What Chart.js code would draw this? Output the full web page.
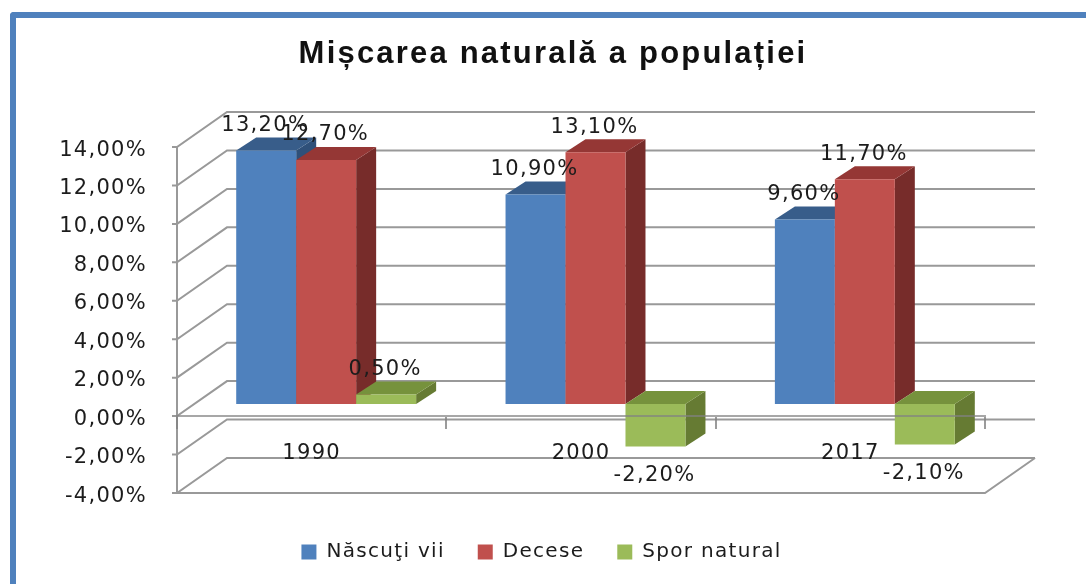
<!DOCTYPE html>
<html>
<head>
<meta charset="utf-8">
<script src="https://cdn.jsdelivr.net/npm/chart.js@4/dist/chart.umd.js"></script>
<style>
  html, body { margin: 0; padding: 0; background: #fff; overflow: hidden; }
  #frame { position: absolute; left: 10px; top: 12px; width: 1100px; height: 600px;
           border-left: 6px solid #4f81bd; border-top: 6px solid #4f81bd; border-top-left-radius: 4px; }
  canvas { position: absolute; left: 0; top: 0; filter: blur(0.5px); }
</style>
</head>
<body>
<div id="frame"></div>
<canvas id="chart" width="1086" height="584"></canvas>
<script>
// --- Data ---
const years = ['1990', '2000', '2017'];
const nascuti = [13.2, 10.9, 9.6];
const decese = [12.7, 13.1, 11.7];
const spor = [0.5, -2.2, -2.1];

const titleText = 'Mișcarea naturală a populației';
const seriesNames = ['Născuţi vii', 'Decese', 'Spor natural'];
const frontColors = ['#4f81bd', '#c0504d', '#9bbb59'];
const topColors = ['#385d8a', '#953735', '#76923c'];
const sideColors = ['#2f5079', '#772c2a', '#667b33'];

const GRID = '#999999';
const INK = '#1c1c1c';
const FONT = '"DejaVu Sans"';
const SPACING = '1.3px'; // the reference text is stretched sideways

// --- Fake 3D geometry (pixels) ---
const wall = { dx: 50, dy: -35 };   // front plane -> back wall
const bar = { dx: 14.5, dy: -12 };  // front plane -> bar front face
const depth = { dx: 20, dy: -13 };  // bar front face -> bar back face
const labelGap = 25;

const fmt = v => v.toFixed(2).replace('.', ',') + '%';

const poly = (ctx, color, pts) => {
  ctx.fillStyle = color;
  ctx.beginPath();
  pts.forEach((p, i) => i ? ctx.lineTo(p[0], p[1]) : ctx.moveTo(p[0], p[1]));
  ctx.closePath();
  ctx.fill();
};

const bars3d = {
  id: 'bars3d',
  beforeUpdate(chart) {
    chart.ctx.letterSpacing = SPACING;
  },
  afterLayout(chart) {
    // legend sits off the canvas centre in the reference
    chart.legend.left += 49;
    chart.legend.right += 49;
    chart.legend.top += 16;
    chart.legend.bottom += 16;
  },
  beforeDraw(chart) {
    const { ctx } = chart;
    ctx.letterSpacing = SPACING;
    ctx.save();
    ctx.letterSpacing = '2.2px';
    ctx.font = 'bold 31px "Liberation Sans"';
    ctx.fillStyle = '#111';
    ctx.textAlign = 'center';
    ctx.textBaseline = 'middle';
    ctx.fillText(titleText, 553, 54);
    ctx.restore();
  },
  beforeDatasetsDraw(chart) {
    const { ctx, chartArea: a, scales: { y } } = chart;
    ctx.save();
    ctx.strokeStyle = GRID;
    ctx.lineWidth = 2;
    y.ticks.forEach(t => {
      const py = y.getPixelForValue(t.value);
      ctx.beginPath();
      ctx.moveTo(a.left - 5, py);
      ctx.lineTo(a.left, py);
      ctx.lineTo(a.left + wall.dx, py + wall.dy);
      ctx.lineTo(a.right + wall.dx, py + wall.dy);
      ctx.stroke();
    });
    // floor
    const floor = y.getPixelForValue(y.min);
    ctx.beginPath();
    ctx.moveTo(a.left, floor);
    ctx.lineTo(a.right, floor);
    ctx.lineTo(a.right + wall.dx, floor + wall.dy);
    ctx.stroke();
    ctx.restore();

    // bars, first series first so the later ones cover its side face
    ctx.save();
    ctx.translate(bar.dx, bar.dy);
    chart.data.datasets.forEach((ds, i) => {
      chart.getDatasetMeta(i).data.forEach(el => {
        const l = el.x - el.width / 2;
        const r = el.x + el.width / 2;
        const top = Math.min(el.y, el.base);
        const bot = Math.max(el.y, el.base);
        poly(ctx, sideColors[i], [[r, top], [r + depth.dx, top + depth.dy], [r + depth.dx, bot + depth.dy], [r, bot]]);
        poly(ctx, topColors[i], [[l, top], [r, top], [r + depth.dx, top + depth.dy], [l + depth.dx, top + depth.dy]]);
        el.draw(ctx);
      });
    });
    ctx.restore();
  },
  beforeDatasetDraw() {
    return false; // already painted above
  },
  afterDatasetsDraw(chart) {
    const { ctx } = chart;
    ctx.save();
    ctx.font = '21px ' + FONT;
    ctx.fillStyle = INK;
    ctx.textAlign = 'center';
    ctx.textBaseline = 'middle';
    chart.data.datasets.forEach((ds, i) => {
      chart.getDatasetMeta(i).data.forEach((el, j) => {
        const v = ds.data[j];
        const y = v < 0 ? el.y + labelGap + 4 : el.y - labelGap;
        ctx.fillText(fmt(v), el.x + bar.dx - 1, y + bar.dy);
      });
    });
    ctx.restore();
  }
};

const makeDataset = (label, data, i) => ({
  label,
  data,
  backgroundColor: frontColors[i],
  borderWidth: 0,
  categoryPercentage: 0.668,
  barPercentage: 1
});

new Chart(document.getElementById('chart'), {
  type: 'bar',
  data: {
    labels: years,
    datasets: [
      makeDataset(seriesNames[0], nascuti, 0),
      makeDataset(seriesNames[1], decese, 1),
      makeDataset(seriesNames[2], spor, 2)
    ]
  },
  plugins: [bars3d],
  options: {
    responsive: false,
    animation: false,
    layout: { padding: { left: 0, right: 101, top: 147, bottom: 28 } },
    plugins: {
      tooltip: { enabled: false },
      title: { display: false },
      legend: {
        position: 'bottom',
        labels: {
          color: INK,
          font: { family: FONT, size: 20 },
          boxWidth: 15,
          boxHeight: 15,
          padding: 33
        }
      }
    },
    scales: {
      x: {
        position: { y: 0 },
        afterFit: s => { s.height = 0; },
        grid: { offset: true, drawOnChartArea: false, drawTicks: true, tickLength: 12, color: 'rgba(130,130,130,0.8)', lineWidth: 2, z: 1 },
        border: { color: 'rgba(130,130,130,0.7)', width: 2, z: 1 },
        ticks: { color: INK, font: { family: FONT, size: 21 }, padding: 13, maxRotation: 0, z: 1 }
      },
      y: {
        min: -4,
        max: 14,
        afterFit: s => { s.width = 177; },
        // grid off: a visible grid line would nudge the bar bases by half its width
        grid: { display: false, drawTicks: false },
        border: { color: GRID, width: 2 },
        // empty first line + tight line height nudges the text a few px down, as in the reference
        ticks: { stepSize: 2, color: INK, font: { family: FONT, size: 21, lineHeight: 0.3 }, padding: 30, callback: v => ['', fmt(v)] }
      }
    }
  }
});
</script>
</body>
</html>
